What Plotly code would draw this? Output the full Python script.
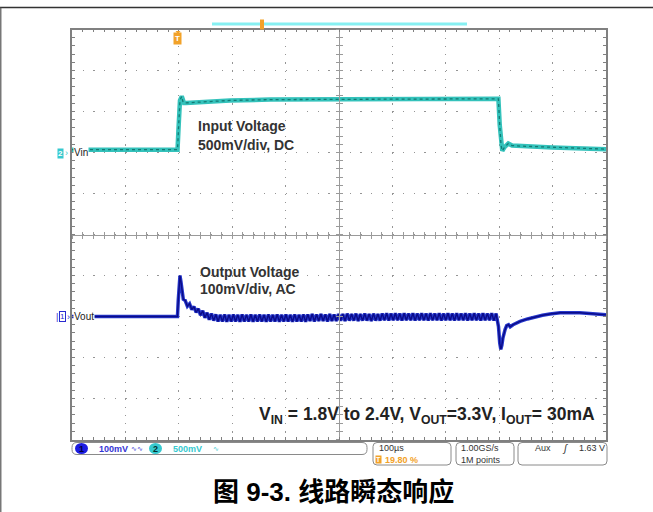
import plotly.graph_objects as go

# ---------------- data ----------------
# Channel 2 : input voltage, volts vs time (µs)
vin_t = [0, 197.6, 199.4, 202.2, 205.5, 207.5, 209.7, 213.5, 240, 296, 371, 483, 614, 764,
         798.5, 801.0, 803.5, 805.8, 810, 817, 824, 840, 900, 1000]
vin_v = [1.80, 1.80, 2.05, 2.40, 2.45, 2.39, 2.37, 2.37, 2.38, 2.40, 2.41, 2.415, 2.42, 2.42,
         2.42, 2.10, 1.85, 1.785, 1.83, 1.875, 1.85, 1.843, 1.827, 1.806]

# Channel 1 : output voltage, AC coupled, mV vs time (µs)
vout_head_t = [0, 60, 120, 197.5, 199.0, 200.5, 202.2, 204.0, 206.0, 208.4]
vout_head_mv = [0, 0, 0, 0, 40, 90, 100, 85, 62, 42]

vout_ripple_t = [
    212.0, 216.1, 220.2, 224.3, 228.4, 232.5, 236.6, 240.7, 244.8, 248.9,
    253.0, 257.1, 261.2, 265.3, 269.4, 273.5, 277.6, 281.7, 285.8, 289.9,
    294.0, 298.1, 302.2, 306.3, 310.4, 314.5, 318.6, 322.7, 326.8, 330.9,
    335.0, 339.1, 343.2, 347.3, 351.4, 355.5, 359.6, 363.7, 367.8, 371.9,
    376.0, 380.1, 384.2, 388.3, 392.4, 396.5, 400.6, 404.7, 408.8, 412.9,
    417.0, 421.1, 425.2, 429.3, 433.4, 437.5, 441.6, 445.7, 449.8, 453.9,
    458.0, 462.1, 466.2, 470.3, 474.4, 478.5, 482.6, 486.7, 490.8, 494.9,
    499.0, 503.1, 507.2, 511.3, 515.4, 519.5, 523.6, 527.7, 531.8, 535.9,
    540.0, 544.1, 548.2, 552.3, 556.4, 560.5, 564.6, 568.7, 572.8, 576.9,
    581.0, 585.1, 589.2, 593.3, 597.4, 601.5, 605.6, 609.7, 613.8, 617.9,
    622.0, 626.1, 630.2, 634.3, 638.4, 642.5, 646.6, 650.7, 654.8, 658.9,
    663.0, 667.1, 671.2, 675.3, 679.4, 683.5, 687.6, 691.7, 695.8, 699.9,
    704.0, 708.1, 712.2, 716.3, 720.4, 724.5, 728.6, 732.7, 736.8, 740.9,
    745.0, 749.1, 753.2, 757.3, 761.4, 765.5, 769.6, 773.7, 777.8, 781.9,
    786.0, 790.1, 794.2]
vout_ripple_mv = [
    39, 25, 31, 17, 24, 10, 19, 3, 14, -3,
    9, -8, 7, -10, 5, -12, 4, -12, 5, -13,
    4, -12, 5, -12, 4, -13, 5, -12, 4, -12,
    5, -13, 4, -12, 5, -12, 4, -13, 5, -12,
    4, -12, 5, -13, 4, -12, 5, -12, 4, -13,
    5, -12, 4, -12, 5, -13, 5, -11, 6, -12,
    5, -11, 6, -11, 5, -12, 6, -11, 5, -11,
    6, -10, 6, -11, 7, -10, 6, -10, 7, -11,
    6, -10, 7, -10, 6, -11, 7, -10, 6, -10,
    7, -9, 8, -10, 7, -9, 8, -9, 7, -10,
    8, -9, 7, -9, 8, -10, 7, -9, 8, -9,
    7, -10, 8, -9, 7, -9, 8, -10, 7, -9,
    8, -9, 7, -10, 8, -9, 7, -9, 8, -10,
    7, -9, 8, -9, 7, -10, 8, -9, 7, -9,
    8, -10, 7]

vout_tail_t = [795.5, 798.7, 801.0, 803.0, 805.0, 807.0, 811.0, 814.0, 817.5, 820.5,
               826, 839, 853, 867, 881, 895, 914, 951, 989, 1000]
vout_tail_mv = [-1, -25, -65, -80, -70, -52, -32, -22, -20, -25,
                -20, -12, -6, -1, 3, 6, 9, 9, 6, 4]

# scope settings
TIME_DIV_US = 100
VIN_SCALE = 0.5        # V/div
VIN_REF_V = 1.8
VIN_REF_DIV = 2.07
VOUT_SCALE = 100       # mV/div
VOUT_REF_DIV = -2.0

# ---------------- geometry helpers ----------------
W, H = 653, 512
PL, PR, PT, PB = 72, 606, 29.5, 439.5
YC = (PT + PB) / 2
XC = (PL + PR) / 2


def X(px):
    return px / W


def Y(py):
    return 1 - py / H


def rounded_box(x0, y0, x1, y1, r):
    p = (f"M {X(x0 + r)},{Y(y0)} L {X(x1 - r)},{Y(y0)} Q {X(x1)},{Y(y0)} {X(x1)},{Y(y0 + r)} "
         f"L {X(x1)},{Y(y1 - r)} Q {X(x1)},{Y(y1)} {X(x1 - r)},{Y(y1)} "
         f"L {X(x0 + r)},{Y(y1)} Q {X(x0)},{Y(y1)} {X(x0)},{Y(y1 - r)} "
         f"L {X(x0)},{Y(y0 + r)} Q {X(x0)},{Y(y0)} {X(x0 + r)},{Y(y0)} Z")
    return dict(type="path", path=p, xref="paper", yref="paper",
                line=dict(color="#8a8a8a", width=1), fillcolor="white", layer="above")


GRID = "#959595"
FRAME = "#808080"
CENTER = "#9a9a9a"

fig = go.Figure()

# main subplot (graticule in divisions)
fig.add_trace(go.Scatter(x=[None], y=[None], xaxis="x", yaxis="y", hoverinfo="skip"))

vout_t = vout_head_t + vout_ripple_t + vout_tail_t
vout_mv = vout_head_mv + vout_ripple_mv + vout_tail_mv

fig.add_trace(go.Scatter(x=vin_t, y=vin_v, xaxis="x", yaxis="y2", mode="lines",
                         line=dict(color="#34c2bb", width=4.5), hoverinfo="skip"))
fig.add_trace(go.Scatter(x=vin_t, y=vin_v, xaxis="x", yaxis="y2", mode="lines",
                         line=dict(color="#137a74", width=1.3, dash="dot"), hoverinfo="skip"))
fig.add_trace(go.Scatter(x=vout_t, y=vout_mv, xaxis="x", yaxis="y3", mode="lines",
                         line=dict(color="#2638cc", width=3.5), hoverinfo="skip"))
fig.add_trace(go.Scatter(x=vout_t, y=vout_mv, xaxis="x", yaxis="y3", mode="lines",
                         line=dict(color="#0b0b88", width=1.4), hoverinfo="skip"))

# empty traces that bring the graticule centre axes to life
for xa, ya in [("x2", "y"), ("x3", "y"), ("x", "y4"), ("x", "y5")]:
    fig.add_trace(go.Scatter(x=[None], y=[None], xaxis=xa, yaxis=ya, hoverinfo="skip"))

t_range = [0, 10 * TIME_DIV_US]
div_range = [-5, 5]
vin_range = [VIN_REF_V + (d - VIN_REF_DIV) * VIN_SCALE for d in div_range]
vout_range = [(d - VOUT_REF_DIV) * VOUT_SCALE for d in div_range]

xdom = [X(PL), X(PR)]
ydom = [Y(PB), Y(PT)]

base_x = dict(range=t_range, showticklabels=False, zeroline=False, fixedrange=True)
base_y = dict(range=div_range, showticklabels=False, zeroline=False, fixedrange=True)

fig.update_layout(
    width=W, height=H, margin=dict(l=0, r=0, t=0, b=0),
    paper_bgcolor="white", plot_bgcolor="white", showlegend=False,
    xaxis=dict(**base_x, domain=xdom, showline=True, linecolor=FRAME, linewidth=1.5, mirror="ticks",
               ticks="inside", ticklen=3, tickcolor=FRAME, tickwidth=1, dtick=TIME_DIV_US, tick0=0,
               showgrid=True, gridcolor=GRID, gridwidth=1.2, griddash="1.2px,7px",
               minor=dict(ticks="inside", ticklen=3, tickcolor=FRAME, dtick=TIME_DIV_US / 5,
                          tick0=0, showgrid=False)),
    yaxis=dict(**base_y, domain=ydom, showline=True, linecolor=FRAME, linewidth=1.5, mirror="ticks",
               ticks="inside", ticklen=3, tickcolor=FRAME, tickwidth=1, dtick=1, tick0=0,
               showgrid=True, gridcolor=GRID, gridwidth=1.2, griddash="1.2px,9.48px",
               minor=dict(ticks="inside", ticklen=3, tickcolor=FRAME, dtick=0.2, tick0=0,
                          showgrid=False)),
    yaxis2=dict(range=vin_range, overlaying="y", visible=False, fixedrange=True),
    yaxis3=dict(range=vout_range, overlaying="y", visible=False, fixedrange=True),
    xaxis2=dict(**base_x, overlaying="x", anchor="free", position=Y(YC), showline=True,
                linecolor=CENTER, linewidth=1, showgrid=False, ticks="outside", ticklen=3,
                tickcolor=CENTER, dtick=TIME_DIV_US, tick0=0,
                minor=dict(ticks="outside", ticklen=3, tickcolor=CENTER, dtick=TIME_DIV_US / 5, tick0=0)),
    xaxis3=dict(**base_x, overlaying="x", anchor="free", position=Y(YC), showline=False,
                showgrid=False, ticks="inside", ticklen=3, tickcolor=CENTER, dtick=TIME_DIV_US, tick0=0,
                minor=dict(ticks="inside", ticklen=3, tickcolor=CENTER, dtick=TIME_DIV_US / 5, tick0=0)),
    yaxis4=dict(**base_y, overlaying="y", anchor="free", position=X(XC), showline=True,
                linecolor=CENTER, linewidth=1, showgrid=False, ticks="outside", ticklen=3,
                tickcolor=CENTER, dtick=1, tick0=0,
                minor=dict(ticks="outside", ticklen=3, tickcolor=CENTER, dtick=0.2, tick0=0)),
    yaxis5=dict(**base_y, overlaying="y", anchor="free", position=X(XC), showline=False,
                showgrid=False, ticks="inside", ticklen=3, tickcolor=CENTER, dtick=1, tick0=0,
                minor=dict(ticks="inside", ticklen=3, tickcolor=CENTER, dtick=0.2, tick0=0)),
)

ORANGE = "#f2a229"
CYAN = "#36c9cf"
BLUE = "#2a2ad0"
SANS = "Liberation Sans, Arial, sans-serif"

shapes = []
# outer figure frame
shapes.append(dict(type="line", xref="paper", yref="paper", x0=0, x1=1, y0=Y(7.5), y1=Y(7.5),
                   line=dict(color="#333333", width=1.6)))
shapes.append(dict(type="line", xref="paper", yref="paper", x0=X(0.8), x1=X(0.8), y0=Y(7.5), y1=0,
                   line=dict(color="#555555", width=1.2)))
# record-view bar with trigger position
shapes.append(dict(type="rect", xref="paper", yref="paper", x0=X(212), x1=X(467), y0=Y(25.5),
                   y1=Y(22.5), fillcolor="#86f0f2", line=dict(width=0)))
shapes.append(dict(type="rect", xref="paper", yref="paper", x0=X(260), x1=X(264), y0=Y(29.5),
                   y1=Y(19.5), fillcolor=ORANGE, line=dict(width=0)))
# trigger marker
shapes.append(dict(type="path", xref="paper", yref="paper",
                   path=f"M {X(175.5)},{Y(31)} L {X(180.5)},{Y(31)} L {X(178)},{Y(34)} Z",
                   fillcolor=ORANGE, line=dict(width=0)))
# status bar boxes
shapes.append(rounded_box(72, 442.5, 367, 454.5, 5))
shapes.append(rounded_box(373, 442.5, 451, 465, 4))
shapes.append(rounded_box(456, 442.5, 514, 465, 4))
shapes.append(rounded_box(518, 442.5, 607, 465, 4))
# channel badges in the status bar
shapes.append(dict(type="circle", xref="paper", yref="paper", x0=X(75), x1=X(88), y0=Y(454),
                   y1=Y(443), fillcolor="#1c1ce0", line=dict(width=0)))
shapes.append(dict(type="circle", xref="paper", yref="paper", x0=X(149), x1=X(162), y0=Y(454),
                   y1=Y(443), fillcolor=CYAN, line=dict(width=0)))
fig.update_layout(shapes=shapes)

ann = []


def text(x, y, s, size, color="#333333", xanchor="left", family=SANS, **kw):
    ann.append(dict(xref="paper", yref="paper", x=X(x), y=Y(y), text=s, showarrow=False,
                    xanchor=xanchor, yanchor="middle", font=dict(family=family, size=size, color=color),
                    **kw))


# trace annotations
text(196, 126, "<b>Input Voltage</b>", 14)
text(196, 145, "<b>500mV/div, DC</b>", 14)
text(198, 272, "<b>Output Voltage</b>", 14)
text(198, 289, "<b>100mV/div, AC</b>", 14)
text(257, 415, "<b>V<sub>IN</sub> = 1.8V to 2.4V, V<sub>OUT</sub>=3.3V, I<sub>OUT</sub>= 30mA</b>",
     17.5, color="#222222")

# channel reference markers
text(60.5, 153, "<b>2</b>", 8, color="white", xanchor="center", bgcolor=CYAN, borderpad=0)
text(66.5, 152.5, "›", 9, color=CYAN, xanchor="center")
text(73, 152.5, "Vin", 10, color="#222222", bgcolor="white", borderpad=0)
text(57, 316.5, "|", 9, color=BLUE, xanchor="center")
text(62, 316.5, "1", 8, color=BLUE, xanchor="center", bgcolor="white", bordercolor=BLUE,
     borderwidth=1, borderpad=0)
text(68.5, 316.5, "›", 9, color=BLUE, xanchor="center")
text(73, 316.5, "Vout", 10, color="#222222", bgcolor="white", borderpad=0)

# trigger glyph
text(178, 38.5, "<b>T</b>", 8, color="white", xanchor="center", bgcolor=ORANGE, borderpad=1)

# status bar
text(81.5, 448.7, "<b>1</b>", 9, color="#000040", xanchor="center")
text(97, 448.7, "<b>100mV</b>", 9, color="#3434d4")
text(129, 448.7, "∿∿", 7, color="#3434d4")
text(155.5, 448.7, "<b>2</b>", 9, color="#003030", xanchor="center")
text(171, 448.7, "<b>500mV</b>", 9, color=CYAN)
text(211, 448.7, "∿", 7, color=CYAN)
text(377, 448, "100µs", 9, color="#333333")
text(378.5, 459.5, "<b>T</b>", 7, color="white", xanchor="center", bgcolor=ORANGE, borderpad=0)
text(383, 459.5, "<b>19.80 %</b>", 9, color=ORANGE)
text(459, 448, "1.00GS/s", 9, color="#333333")
text(459, 459.5, "1M points", 9, color="#333333")
text(533, 448, "Aux", 9, color="#333333")
text(560, 448, "<i>ʃ</i>", 10, color="#333333")
text(577, 448, "1.63 V", 9, color="#333333")

# figure caption
text(333.5, 492, "<b>图 9-3. 线路瞬态响应</b>", 26, color="#000000", xanchor="center",
     family="Liberation Sans, Noto Sans CJK SC, sans-serif")

fig.update_layout(annotations=ann)

fig.write_html("out.html", config={"displayModeBar": False})
